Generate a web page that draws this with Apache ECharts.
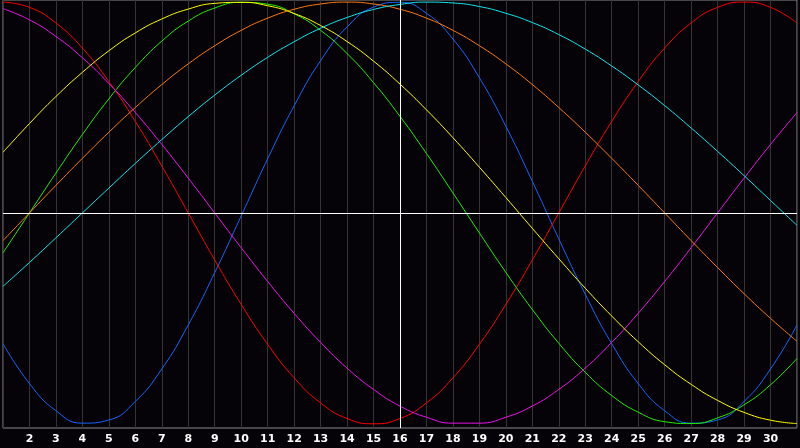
<!DOCTYPE html>
<html>
<head>
<meta charset="utf-8">
<style>
  html, body { margin: 0; padding: 0; background: #050308; }
  #chart { width: 800px; height: 448px; }
</style>
<script src="https://cdn.jsdelivr.net/npm/echarts@6/dist/echarts.min.js"></script>
</head>
<body>
<div id="chart"></div>
<script>
/* -------------------------------------------------------------------------- */
/*                                 Biorhythm                                  */
/* -------------------------------------------------------------------------- */

const days = [1, 2, 3, 4, 5, 6, 7, 8, 9, 10, 11, 12, 13, 14, 15, 16,
  17, 18, 19, 20, 21, 22, 23, 24, 25, 26, 27, 28, 29, 30, 31];
const today = 16;

// 23-day cycle
const blueValues = [-0.620, -0.809, -0.938, -0.997, -0.982, -0.894, -0.740, -0.531,
  -0.283, -0.014, 0.257, 0.508, 0.722, 0.882, 0.976, 0.999, 0.947, 0.825, 0.641,
  0.411, 0.150, -0.123, -0.386, -0.620, -0.809, -0.938, -0.997, -0.982, -0.894,
  -0.740, -0.531];
// 28-day cycle
const redValues = [1.0, 0.975, 0.901, 0.782, 0.623, 0.434, 0.223, 0, -0.223, -0.434,
  -0.623, -0.782, -0.901, -0.975, -1.0, -0.975, -0.901, -0.782, -0.623, -0.434,
  -0.223, 0, 0.223, 0.434, 0.623, 0.782, 0.901, 0.975, 1.0, 0.975, 0.901];
// 33-day cycle
const greenValues = [-0.189, 0, 0.189, 0.372, 0.541, 0.690, 0.815, 0.910, 0.972, 0.999,
  0.990, 0.945, 0.866, 0.756, 0.618, 0.458, 0.282, 0.095, -0.095, -0.282, -0.458,
  -0.618, -0.756, -0.866, -0.945, -0.990, -0.999, -0.972, -0.910, -0.815, -0.690];
// 38-day cycle
const magentaValues = [0.969, 0.916, 0.837, 0.736, 0.614, 0.476, 0.325, 0.165, 0,
  -0.165, -0.325, -0.476, -0.614, -0.736, -0.837, -0.916, -0.969, -0.997, -0.997,
  -0.969, -0.916, -0.837, -0.736, -0.614, -0.476, -0.325, -0.165, 0, 0.165, 0.325,
  0.476];
// 43-day cycle
const yellowValues = [0.288, 0.424, 0.552, 0.667, 0.769, 0.854, 0.920, 0.967, 0.994,
  0.999, 0.983, 0.946, 0.889, 0.813, 0.720, 0.611, 0.489, 0.357, 0.217, 0.073,
  -0.073, -0.217, -0.357, -0.489, -0.611, -0.720, -0.813, -0.889, -0.946, -0.983,
  -0.999];
// 48-day cycle
const orangeValues = [-0.131, 0, 0.131, 0.259, 0.383, 0.5, 0.609, 0.707, 0.793, 0.866,
  0.924, 0.966, 0.991, 1.0, 0.991, 0.966, 0.924, 0.866, 0.793, 0.707, 0.609, 0.5,
  0.383, 0.259, 0.131, 0, -0.131, -0.259, -0.383, -0.5, -0.609];
// 53-day cycle
const cyanValues = [-0.348, -0.235, -0.118, 0, 0.118, 0.235, 0.348, 0.457, 0.559,
  0.653, 0.738, 0.812, 0.876, 0.927, 0.965, 0.989, 1.0, 0.996, 0.979, 0.947, 0.903,
  0.846, 0.777, 0.697, 0.607, 0.509, 0.403, 0.292, 0.177, 0.059, -0.059];

const curves = [
  { name: '23', color: '#1565ff', values: blueValues },
  { name: '28', color: '#ff0000', values: redValues },
  { name: '33', color: '#22ee00', values: greenValues },
  { name: '38', color: '#ee10ee', values: magentaValues },
  { name: '43', color: '#ffff00', values: yellowValues },
  { name: '48', color: '#ff7a10', values: orangeValues },
  { name: '53', color: '#10e8f0', values: cyanValues },
];

const chart = echarts.init(document.getElementById('chart'));

const series = curves.map(c => ({
  name: c.name,
  type: 'line',
  smooth: true,
  symbol: 'none',
  z: 3,
  lineStyle: { color: c.color, width: 1 },
  data: days.map((d, i) => [d, c.values[i]]),
}));

// zero line and "today" line
series.push({
  type: 'line',
  data: [],
  z: 2,
  markLine: {
    silent: true,
    symbol: 'none',
    label: { show: false },
    animation: false,
    lineStyle: { color: '#ffffff', width: 1, type: 'solid' },
    data: [{ yAxis: 0 }, { xAxis: today }],
  },
});

chart.setOption({
  animation: false,
  backgroundColor: '#050308',
  grid: {
    left: 0,
    right: 1,
    top: 0,
    height: 428,
    show: true,
    borderColor: '#8a8a8a',
    borderWidth: 1,
    backgroundColor: 'transparent',
  },
  xAxis: {
    type: 'value',
    min: 1,
    max: 31,
    interval: 1,
    axisLine: { show: false },
    axisTick: { show: false },
    splitLine: { show: true, lineStyle: { color: '#343434', width: 1 } },
    axisLabel: {
      color: '#ffffff',
      fontFamily: 'DejaVu Sans',
      fontWeight: 'bold',
      fontSize: 11,
      margin: 6,
      formatter: v => (v === 1 || v === 31 ? '' : String(v)),
    },
  },
  yAxis: {
    type: 'value',
    min: -1.02,
    max: 1.01,
    axisLine: { show: false },
    axisTick: { show: false },
    axisLabel: { show: false },
    splitLine: { show: false },
  },
  series,
});
</script>
</body>
</html>
